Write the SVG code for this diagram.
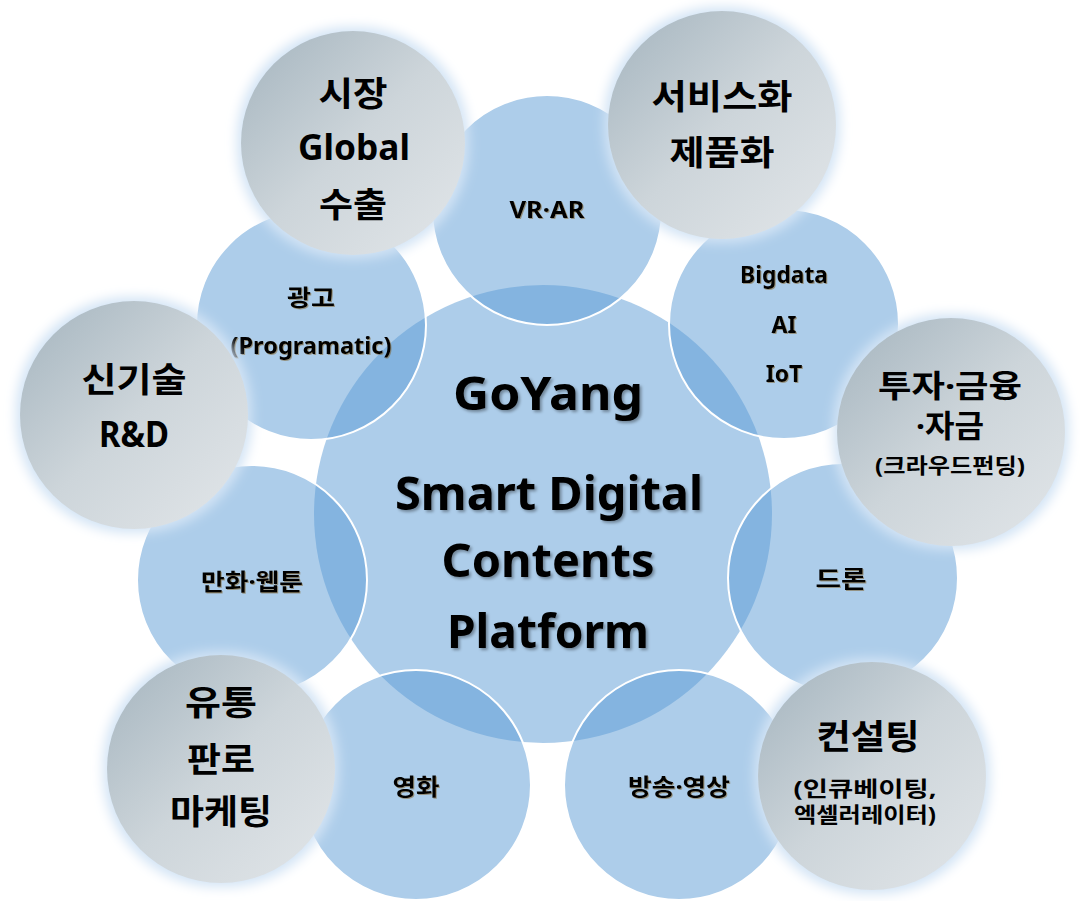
<svg xmlns="http://www.w3.org/2000/svg" width="1080" height="901" viewBox="0 0 1080 901">
<style>
.core{fill:#5b9bd5;fill-opacity:0.5}
.sat{fill:#5b9bd5;fill-opacity:0.5;stroke:#ffffff;stroke-width:2}
.gray{fill:url(#gg);filter:url(#glow)}
text{font-family:'Noto Sans','Noto Sans CJK KR',sans-serif;font-weight:bold;fill:#000;text-anchor:middle}
.st{font-size:23px;filter:url(#ts)}
.sk{font-size:23px;filter:url(#ts)}
.gt{font-size:35px}
.gk{font-size:34px}
.gi{font-size:31px}
.gs{font-size:21px}
.ct{font-size:47px;filter:url(#cs)}
</style>
<defs>
<linearGradient id="gg" x1="0" y1="0" x2="1" y2="1">
<stop offset="0" stop-color="#a4b4be"/>
<stop offset="0.5" stop-color="#cdd5da"/>
<stop offset="1" stop-color="#e2e6e9"/>
</linearGradient>
<filter id="glow" x="-20%" y="-20%" width="140%" height="140%">
<feMorphology in="SourceAlpha" operator="dilate" radius="4" result="d"/>
<feGaussianBlur in="d" stdDeviation="6" result="b"/>
<feFlood flood-color="#d3e4f5"/>
<feComposite in2="b" operator="in" result="g"/>
<feMerge><feMergeNode in="g"/><feMergeNode in="SourceGraphic"/></feMerge>
</filter>
<filter id="ts" x="-10%" y="-20%" width="120%" height="140%">
<feDropShadow dx="1" dy="1" stdDeviation="0.6" flood-color="#7a5a20" flood-opacity="0.5"/>
</filter>
<filter id="cs" x="-10%" y="-20%" width="120%" height="140%">
<feDropShadow dx="2" dy="2" stdDeviation="1.5" flood-color="#000" flood-opacity="0.35"/>
</filter>
</defs>
<g id="connectors"/>
<g id="center">
<circle class="core" cx="543" cy="514" r="229"/>
</g>
<g id="sat-vrar"><circle class="sat" cx="547" cy="210" r="115"/><text class="st" x="547" y="218" textLength="75" lengthAdjust="spacingAndGlyphs">VR·AR</text></g>
<g id="sat-bigdata"><circle class="sat" cx="784" cy="324" r="115"/><text class="st" x="784" y="283" textLength="88" lengthAdjust="spacingAndGlyphs">Bigdata</text><text class="st" x="784" y="333">AI</text><text class="st" x="784" y="382">IoT</text></g>
<g id="sat-drone"><circle class="sat" cx="843" cy="578" r="115"/><text class="sk" x="841" y="587" textLength="51" lengthAdjust="spacingAndGlyphs">드론</text></g>
<g id="sat-broadcast"><circle class="sat" cx="679" cy="785" r="115"/><text class="sk" x="679" y="795" textLength="102" lengthAdjust="spacingAndGlyphs">방송·영상</text></g>
<g id="sat-movie"><circle class="sat" cx="416" cy="785" r="115"/><text class="sk" x="416" y="795" textLength="47" lengthAdjust="spacingAndGlyphs">영화</text></g>
<g id="sat-webtoon"><circle class="sat" cx="252" cy="580" r="115"/><text class="sk" x="252" y="590" textLength="102" lengthAdjust="spacingAndGlyphs">만화·웹툰</text></g>
<g id="sat-ad"><circle class="sat" cx="311" cy="325" r="115"/><text class="sk" x="311" y="306" textLength="48" lengthAdjust="spacingAndGlyphs">광고</text><text class="st" x="311" y="354" textLength="161" lengthAdjust="spacingAndGlyphs">(Programatic)</text></g>
<g id="center-text">
<text class="ct" x="548" y="410" textLength="190" lengthAdjust="spacingAndGlyphs">GoYang</text>
<text class="ct" x="549" y="510" textLength="308" lengthAdjust="spacingAndGlyphs">Smart Digital</text>
<text class="ct" x="548" y="577" textLength="213" lengthAdjust="spacingAndGlyphs">Contents</text>
<text class="ct" x="548" y="648" textLength="202" lengthAdjust="spacingAndGlyphs">Platform</text>
</g>
<g id="g-market"><circle class="gray" cx="353" cy="143" r="112"/><text class="gk" x="353" y="106" textLength="69" lengthAdjust="spacingAndGlyphs">시장</text><text class="gt" x="354" y="160" textLength="112" lengthAdjust="spacingAndGlyphs">Global</text><text class="gk" x="353" y="217" textLength="68" lengthAdjust="spacingAndGlyphs">수출</text></g>
<g id="g-service"><circle class="gray" cx="722" cy="125" r="114"/><text class="gk" x="722" y="109" textLength="141" lengthAdjust="spacingAndGlyphs">서비스화</text><text class="gk" x="722" y="165" textLength="105" lengthAdjust="spacingAndGlyphs">제품화</text></g>
<g id="g-invest"><circle class="gray" cx="951" cy="432" r="114"/><text class="gi" x="950" y="397" textLength="144" lengthAdjust="spacingAndGlyphs">투자·금융</text><text class="gi" x="950" y="437" textLength="68" lengthAdjust="spacingAndGlyphs">·자금</text><text class="gs" x="950" y="473" textLength="150" lengthAdjust="spacingAndGlyphs">(크라우드펀딩)</text></g>
<g id="g-consult"><circle class="gray" cx="872" cy="776" r="114"/><text class="gk" x="868" y="749" textLength="103" lengthAdjust="spacingAndGlyphs">컨설팅</text><text class="gs" x="865" y="796" textLength="143" lengthAdjust="spacingAndGlyphs">(인큐베이팅,</text><text class="gs" x="865" y="822" textLength="142" lengthAdjust="spacingAndGlyphs">엑셀러레이터)</text></g>
<g id="g-market2"><circle class="gray" cx="221" cy="769" r="114"/><text class="gk" x="221" y="715" textLength="72" lengthAdjust="spacingAndGlyphs">유통</text><text class="gk" x="221" y="772" textLength="68" lengthAdjust="spacingAndGlyphs">판로</text><text class="gk" x="221" y="824" textLength="102" lengthAdjust="spacingAndGlyphs">마케팅</text></g>
<g id="g-rnd"><circle class="gray" cx="134" cy="415" r="114"/><text class="gk" x="134" y="392" textLength="105" lengthAdjust="spacingAndGlyphs">신기술</text><text class="gt" x="134" y="447" textLength="70" lengthAdjust="spacingAndGlyphs">R&amp;D</text></g>
</svg>
